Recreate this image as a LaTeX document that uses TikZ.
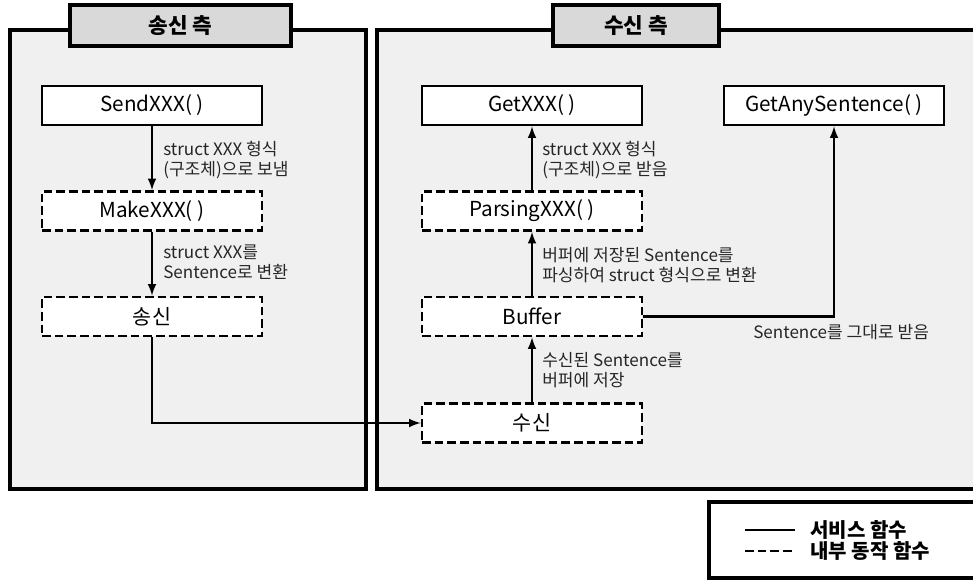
\documentclass[tikz,border=0pt]{standalone}
\usepackage{fontspec}
\setmainfont{Noto Sans CJK KR}
\usetikzlibrary{arrows,positioning}
\definecolor{panelgray}{HTML}{F0F0F0}
\definecolor{headgray}{HTML}{D9D9D9}
\tikzstyle{panel}=[draw, line width=2.6pt, fill=panelgray]
\tikzstyle{header}=[draw, line width=2.6pt, fill=headgray, minimum height=30.75pt, inner sep=0pt, font=\bfseries\fontsize{16}{18}\selectfont]
\tikzstyle{func}=[draw, line width=2.2pt, fill=white, minimum width=165pt, minimum height=29.25pt, inner sep=0pt, font=\fontsize{15.5}{18}\selectfont]
\tikzstyle{inner}=[func, dash pattern=on 6.5pt off 3pt]
\tikzstyle{flow}=[line width=1.9pt, -latex]
\tikzstyle{note}=[anchor=west, align=left, inner sep=0pt, text=black!85, font=\fontsize{12.8}{15}\selectfont]
\newcommand{\func}{\node[func]}
\newcommand{\inner}{\node[inner]}

\begin{document}
\begin{tikzpicture}[x=0.75pt, y=-0.75pt]
                    \clip (0,0) rectangle (973,580);
                    % panels
                    \draw[panel] (10,30) rectangle (366,489);
                    \draw[panel] (377,30) rectangle (990,489);
                    \node[header, minimum width=165.75pt] (sendside) at (180.5,25.5) {송신 측};
                    \node[header, minimum width=124.5pt] (recvside) at (636,25.5) {수신 측};
                    % sending side
                    \func (sendx) at (152,105.5) {SendXXX( )};
                    \inner (makex) at (152,211) {MakeXXX( )};
                    \inner (send) at (152,316.5) {송신};
                    % receiving side
                    \func (getx) at (532,105.5) {GetXXX( )};
                    \func (getany) at (834,105.5) {GetAnySentence( )};
                    \inner (parsex) at (532,211) {ParsingXXX( )};
                    \inner (buf) at (532,316.5) {Buffer};
                    \inner (recv) at (532,423) {수신};
                    \path[flow]
                        (sendx) edge (makex)
                        (makex) edge (send)
                        (recv) edge (buf)
                        (buf) edge (parsex)
                        (parsex) edge (getx)
                    ;
                    \draw[flow] (send.south) |- (recv.west);
                    \draw[flow] (buf.east) -| (getany.south);
                    \node[note] (n1) at (163,160) {struct XXX 형식\\(구조체)으로 보냄};
                    \node[note] (n2) at (163,262) {struct XXX를\\Sentence로 변환};
                    \node[note] (n3) at (542,160) {struct XXX 형식\\(구조체)으로 받음};
                    \node[note] (n4) at (542,265) {버퍼에 저장된 Sentence를\\파싱하여 struct 형식으로 변환};
                    \node[note] (n5) at (542,370) {수신된 Sentence를\\버퍼에 저장};
                    \node[note] (n6) at (753,332) {Sentence를 그대로 받음};
                    % legend
                    \draw[line width=2.4pt] (709,502) rectangle (990,578);
                    \coordinate (la) at (745,530);
                    \coordinate (lb) at (795,530);
                    \coordinate (lc) at (745,551);
                    \coordinate (ld) at (795,551);
                    \draw[line width=2pt] (la) -- (lb);
                    \draw[line width=2pt, dash pattern=on 6.5pt off 3pt] (lc) -- (ld);
                    \node[note, text=black, font=\bfseries\fontsize{15}{17}\selectfont] (svc) at (810,530) {서비스 함수};
                    \node[note, text=black, font=\bfseries\fontsize{15}{17}\selectfont] (int) at (810,551) {내부 동작 함수};
                \end{tikzpicture}
\end{document}
